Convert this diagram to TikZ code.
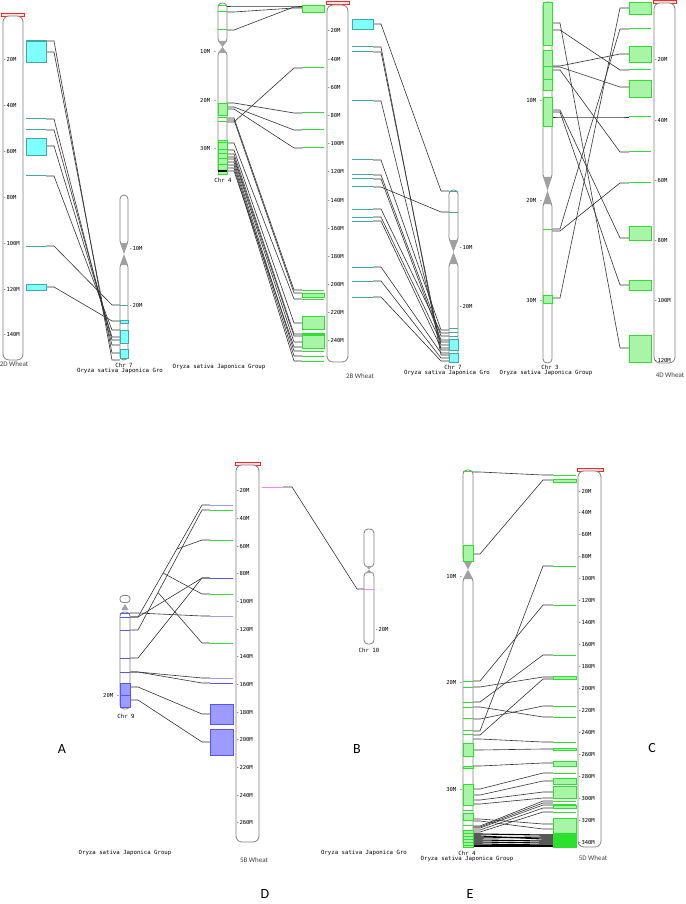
\documentclass[tikz,border=0pt]{standalone}
\usepackage{fontspec}
\setsansfont{Carlito}
\newfontfamily\pixfont{DejaVu Sans Mono}
\definecolor{lnk}{HTML}{333333}
\definecolor{cyfill}{HTML}{80FFFF}
\definecolor{cyline}{HTML}{3FA9A9}
\definecolor{grfill}{HTML}{A8F5A8}
\definecolor{grline}{HTML}{2EE02E}
\definecolor{blfill}{HTML}{9C9CFF}
\definecolor{blline}{HTML}{5555FF}
\definecolor{pkline}{HTML}{FF80FF}
\definecolor{cengray}{HTML}{A0A0A0}
\tikzset{
  chromo/.style={draw=black!50, line width=0.8pt, rounded corners=#1},
  chromo/.default=4pt,
  capbox/.style={draw=red!85, fill=red!12, line width=0.6pt},
  link/.style={draw=lnk, line width=0.6pt},
  cyband/.style={draw=cyline, line width=1pt},
  cyblock/.style={draw=cyline, fill=cyfill, line width=0.7pt},
  grband/.style={draw=grline, line width=1pt},
  grblock/.style={draw=grline, fill=grfill, line width=0.7pt},
  blband/.style={draw=blline, line width=1pt},
  blpale/.style={draw=blfill, line width=1pt},
  blblock/.style={draw=blline, fill=blfill, line width=0.7pt},
  pkband/.style={draw=pkline, line width=1pt},
  tk/.style={font=\fontsize{5.5}{5.5}\selectfont\pixfont, inner sep=0pt},
  olab/.style={font=\fontsize{5.7}{5.7}\selectfont\pixfont, inner sep=0pt},
  wlab/.style={font=\fontsize{7}{7}\selectfont\sffamily, text=black!75, inner sep=0pt},
  panel/.style={font=\fontsize{14}{14}\selectfont\sffamily, inner sep=0pt}
}
\newcommand{\ricechr}[6]{%
  \draw[chromo, fill=white] (#1,#3) rectangle (#2,#4);
  \draw[chromo, fill=white] (#1,#5) rectangle (#2,#6);
  \fill[cengray] (#1,#4-2) -- (#2,#4-2) -- ({(#1+#2)/2},{(#4+#5)/2}) -- cycle;
  \fill[cengray] (#1,#5+2) -- (#2,#5+2) -- ({(#1+#2)/2},{(#4+#5)/2}) -- cycle;}
\begin{document}
\begin{tikzpicture}[x=1pt,y=-1pt]
  \useasboundingbox[fill=white] (0,0) rectangle (685,904);

  \foreach \a/\b in {41/360,52/353,119/345,130/340,146/337,176/330,246/305,287/321}
    \draw[link] (46,\a) -- (54,\a) -- (112,\b) -- (120,\b);
  \draw[capbox] (1,13.5) rectangle (24,16.5);
  \draw[chromo=6pt, fill=white] (3,16) rectangle (23,360);
  \foreach \m in {20,40,...,140}
    \node[tk, anchor=west] (tA\m) at (3,{14.2+2.29*\m}) {-\m M};
  \node[wlab] (lab2D) at (14,364) {2D Wheat};
  \draw[cyblock] (26,40) rectangle (46,62);
  \draw[cyline, line width=1.2pt] (26,41) -- (46,41);
  \foreach \y in {119,130,176,246}
    \draw[cyband] (26,\y) -- (46,\y);
  \draw[cyblock] (26,138) rectangle (46,155);
  \draw[cyblock] (26,284) rectangle (46,290);
  \ricechr{120}{128}{195}{245}{263}{360}
  \draw[cyband] (120,305) -- (128,305);
  \draw[cyblock] (120,320) rectangle (128,323);
  \draw[cyblock] (120,330) rectangle (128,343);
  \draw[cyblock] (120,349) rectangle (128,358);
  \node[tk, anchor=west] (tA10) at (129,248) {-10M};
  \node[tk, anchor=west] (tA20) at (129,305) {-20M};
  \node[olab] (chrA) at (124,365) {Chr 7};
  \node[olab] (orgA) at (120,371) {Oryza sativa Japonica Gro};
  \node[panel] (pA) at (62,749) {A};

  \foreach \a/\b in {6/6,12/8,30/7,103/113,107/130,109/148,122/68,118/290,120/293,143/299,150/323,154/334,157/336,159/342,162/351,165/356,168/361,171/347}
    \draw[link] (227,\a) -- (234,\a) -- (294,\b) -- (302,\b);
  \ricechr{218}{227}{3}{43}{51}{174}
  \foreach \y in {6,12,30,118,122}
    \draw[grband] (218,\y) -- (227,\y);
  \draw[grblock] (218,103) rectangle (227,115);
  \draw[grblock] (218,140) rectangle (227,174);
  \foreach \y in {143,150,154,159,165}
    \draw[grband] (218,\y) -- (227,\y);
  \draw[black, line width=1.2pt] (218,171) -- (227,171);
  \node[tk, anchor=east] (tB10) at (217,51) {10M -};
  \node[tk, anchor=east] (tB20) at (217,100) {20M -};
  \node[tk, anchor=east] (tB30) at (217,148) {30M -};
  \node[olab] (chrB) at (223,180) {Chr 4};
  \node[olab] (orgB1) at (219,367) {Oryza sativa Japonica Group};
  \draw[grblock] (302,5) rectangle (324,12);
  \foreach \y in {68,113,130,148,290,299,351,356,361}
    \draw[grband] (302,\y) -- (324,\y);
  \draw[grblock] (302,293) rectangle (324,297);
  \draw[grblock] (302,316) rectangle (324,329);
  \draw[grblock] (302,333) rectangle (324,348);
  \draw[grline, line width=2pt] (302,335) -- (324,335);
  \foreach \a/\b in {24/191,47/355,52/350,101/345,160/330,175/336,179/340,187/212,209/333,217/342,221/348,267/353,281/358,297/361}
    \draw[link] (373,\a) -- (381,\a) -- (441,\b) -- (449,\b);
  \draw[capbox] (326,1.5) rectangle (349,4.5);
  \draw[chromo=6pt, fill=white] (327,5) rectangle (348,362);
  \foreach \m in {20,40,...,240}
    \node[tk, anchor=west] (tB\m) at (327,{2.8+1.409*\m}) {-\m M};
  \node[wlab] (lab2B) at (360,376) {2B Wheat};
  \draw[cyblock] (352,19) rectangle (373,29);
  \foreach \y in {47,52,101,160,175,179,187,209,217,221,267,281,297}
    \draw[cyband] (352,\y) -- (373,\y);
  \ricechr{449}{458}{190}{242}{262}{362}
  \foreach \y in {191,212,328,332,336}
    \draw[cyband] (449,\y) -- (458,\y);
  \draw[cyblock] (449,339) rectangle (458,350);
  \draw[cyblock] (449,353) rectangle (458,362);
  \node[tk, anchor=west] (tB7a) at (459,247) {-10M};
  \node[tk, anchor=west] (tB7b) at (459,306) {-20M};
  \node[olab] (chrB7) at (453,367) {Chr 7};
  \node[olab] (orgB2) at (447,373) {Oryza sativa Japonica Gro};
  \node[panel] (pB) at (357,749) {B};

  \foreach \a/\b in {23/348,30/70,66/54,67/87,70/152,110/238,112/285,117/117,229/29,231/183,298/8}
    \draw[link] (552,\a) -- (560,\a) -- (620,\b) -- (629,\b);
  \ricechr{543}{552}{2}{179}{202}{363}
  \draw[grblock] (543,2) rectangle (552,45);
  \draw[grblock] (543,50) rectangle (552,90);
  \draw[grblock] (543,97) rectangle (552,126);
  \foreach \y in {67,80,229}
    \draw[grband] (543,\y) -- (552,\y);
  \draw[grblock] (543,295) rectangle (552,303);
  \node[tk, anchor=east] (tC10) at (543,100) {10M -};
  \node[tk, anchor=east] (tC20) at (543,200) {20M -};
  \node[tk, anchor=east] (tC30) at (543,300) {30M -};
  \node[olab] (chrC) at (550,367) {Chr 3};
  \node[olab] (orgC) at (546,373) {Oryza sativa Japonica Group};
  \draw[grblock] (629,2) rectangle (651,14);
  \draw[grblock] (629,46) rectangle (651,62);
  \draw[grblock] (629,80) rectangle (651,97);
  \foreach \y in {29,70,117,152,183}
    \draw[grband] (629,\y) -- (651,\y);
  \draw[grblock] (629,226) rectangle (651,240);
  \draw[grblock] (629,280) rectangle (651,290);
  \draw[grblock] (629,335) rectangle (651,362);
  \draw[capbox] (653,0.5) rectangle (676,3);
  \draw[chromo=6pt, fill=white] (654,3) rectangle (675,363);
  \foreach \m in {20,40,...,120}
    \node[tk, anchor=west] (tC\m) at (654,{3*\m}) {-\m M};
  \node[wlab] (lab4D) at (670,375) {4D Wheat};
  \node[panel] (pC) at (652,748) {C};

  \foreach \a/\b in {613/616,617/505,630/510,617/578,658/578,672/678,672/683,687/714,700/742}
    \draw[link] (130,\a) -- (138,\a) -- (202,\b) -- (210,\b);
  \draw[link] (163,573) -- (202,594) -- (210,594);
  \draw[link] (177,549) -- (202,540) -- (210,540);
  \draw[link] (158,592.5) -- (202,643) -- (210,643);
  \draw[chromo=3pt, fill=white] (120,595.5) rectangle (130,602.5);
  \fill[cengray] (121.5,610) -- (128.5,610) -- (125,604) -- cycle;
  \draw[chromo, fill=white] (120,612) rectangle (130,709);
  \foreach \y in {613,617,630,658,672}
    \draw[blband] (120,\y) -- (130,\y);
  \draw[blblock] (120,683) rectangle (130,707);
  \draw[blband] (120,695) -- (130,695);
  \node[tk, anchor=east] (tD20) at (120,695) {20M -};
  \node[olab] (chrD9) at (126,716) {Chr 9};
  \node[olab] (orgD1) at (125,853) {Oryza sativa Japonica Group};
  \foreach \y in {505,616,678}
    \draw[blpale] (210,\y) -- (233,\y);
  \foreach \y in {578,683}
    \draw[blband] (210,\y) -- (233,\y);
  \foreach \y in {510,540,594,643}
    \draw[grband] (210,\y) -- (233,\y);
  \draw[blblock] (210,704) rectangle (233,724);
  \draw[blblock] (210,729) rectangle (233,755);
  \draw[capbox] (235,462) rectangle (260,465);
  \draw[chromo=6pt, fill=white] (236,465) rectangle (259,842);
  \foreach \m in {20,40,...,260}
    \node[tk, anchor=west] (tD\m) at (236,{463.3+1.383*\m}) {-\m M};
  \node[wlab] (lab5B) at (254,860) {5B Wheat};
  \draw[pkband] (262,487) -- (283,487);
  \draw[link] (283,487) -- (292,487) -- (357,589) -- (364,589);
  \draw[chromo, fill=white] (364,529) rectangle (374,567);
  \draw[chromo, fill=white] (364,572) rectangle (374,644);
  \fill[cengray] (366,566) -- (372,566) -- (369,569.5) -- cycle;
  \fill[cengray] (366,573) -- (372,573) -- (369,569.5) -- cycle;
  \draw[pkband] (364,589) -- (374,589);
  \node[tk, anchor=west] (tD10) at (375,629) {-20M};
  \node[olab] (chrD10) at (369,650) {Chr 10};
  \node[olab] (orgD2) at (364,853) {Oryza sativa Japonica Gro};
  \node[panel] (pD) at (265,894) {D};

  \foreach \a/\b in {472/475,554/480,681/605,687/677,702/655,707/717,719/706,731/566,735/679,739/742,750/749,766/763,789/773,795/781,800/792,804/798,819/824,821/829,826/801,827/803,828/805,830/808,832/812}
    \draw[link] (473,\a) -- (480,\a) -- (543,\b) -- (553,\b);
  \foreach \a/\b in {834/835,836/839,838/837,840/841,842/843,844/845,846/846}
    \draw[link, black, line width=1.1pt] (473,\a) -- (480,\a) -- (543,\b) -- (553,\b);
  \ricechr{463}{473}{470}{562}{577}{847}
  \foreach \y in {471,681,687,702,707,718,730,734,810,825}
    \draw[grband] (463,\y) -- (473,\y);
  \draw[grblock] (463,545) rectangle (473,561);
  \draw[grblock] (463,743) rectangle (473,756);
  \draw[grblock] (463,766) rectangle (473,768);
  \draw[grblock] (463,784) rectangle (473,805);
  \draw[grblock] (463,813) rectangle (473,820);
  \draw[grblock] (463,830) rectangle (473,847);
  \foreach \y in {833,836,839,842,845}
    \draw[grband] (463,\y) -- (473,\y);
  \node[tk, anchor=east] (tE10) at (463,576) {10M -};
  \node[tk, anchor=east] (tE20) at (463,682) {20M -};
  \node[tk, anchor=east] (tE30) at (463,789) {30M -};
  \node[olab] (chrE) at (467,853) {Chr 4};
  \node[olab] (orgE) at (467,859) {Oryza sativa Japonica Group};
  \foreach \y in {475,566,605,655,706,717,742,773,801,804,812}
    \draw[grband] (553,\y) -- (576,\y);
  \foreach \a/\b in {479/482,676/679,748/750,761/766,778/784,786/798,805/808,818/833}
    \draw[grblock] (553,\a) rectangle (576,\b);
  \draw[grline, fill=grline] (553,834) rectangle (576,847);
  \draw[capbox] (577,468.5) rectangle (603,471);
  \draw[chromo=6pt, fill=white] (578,471) rectangle (601,847);
  \foreach \m in {20,40,...,340}
    \node[tk, anchor=west] (tE\m) at (578,{469.1+1.097*\m}) {-\m M};
  \node[wlab] (lab5D) at (593,858) {5D Wheat};
  \node[panel] (pE) at (470,894) {E};
\end{tikzpicture}
\end{document}
